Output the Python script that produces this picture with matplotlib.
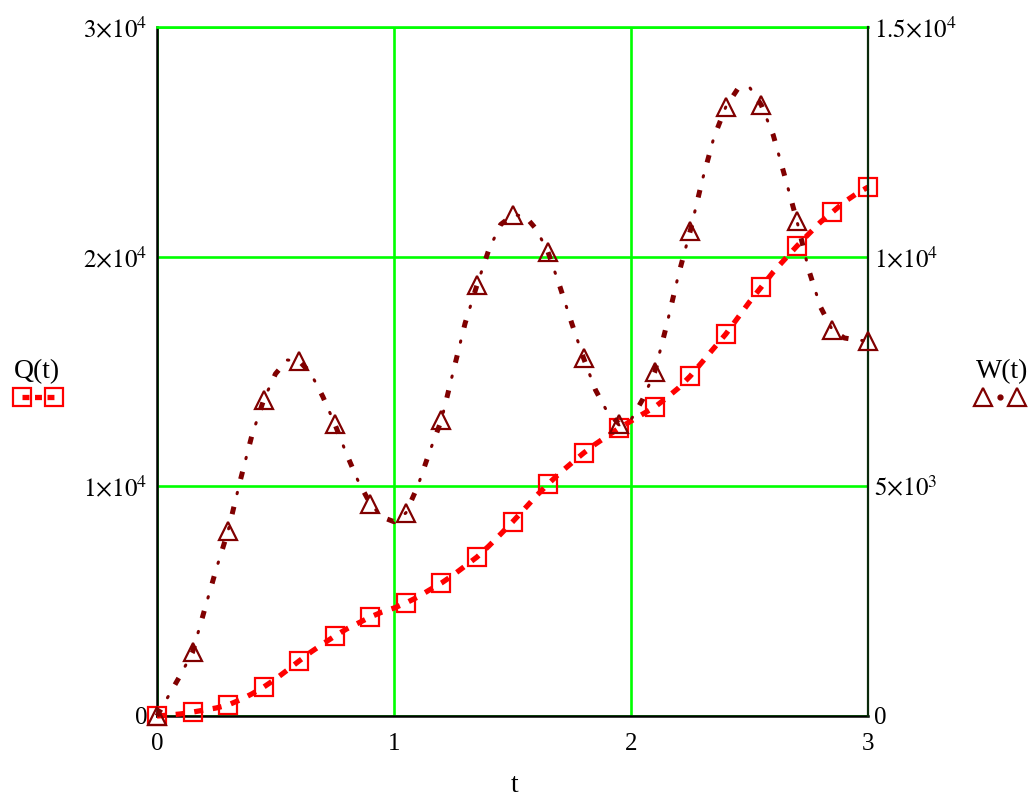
import numpy as np
import matplotlib
matplotlib.use("Agg")
import matplotlib.pyplot as plt
from matplotlib.lines import Line2D

plt.rcParams["mathtext.fontset"] = "stix"
plt.rcParams["font.family"] = ["Liberation Serif", "DejaVu Serif"]
plt.rcParams["lines.scale_dashes"] = False

# sample grid for t in [0, 3]
t_step = 0.05
t = np.round(np.arange(0, 3 + t_step / 2, t_step), 2)

# Q(t), left axis
q_values = [
    0, 40, 90, 170, 260, 350, 480, 700, 960, 1260,
    1610, 2000, 2400, 2790, 3140, 3480, 3790, 4050, 4310, 4530,
    4700, 4920, 5180, 5490, 5790, 6140, 6530, 6920, 7400, 7920,
    8450, 9010, 9580, 10100, 10580, 11020, 11450, 11840, 12190, 12540,
    12840, 13150, 13450, 13850, 14280, 14800, 15410, 16020, 16630, 17330,
    18030, 18680, 19330, 19900, 20460, 20990, 21510, 21940, 22380, 22730,
    23030,
]

# W(t), right axis
w_values = [
    0, 450, 900, 1390, 2300, 3200, 4030, 5100, 6100, 6880,
    7450, 7750, 7730, 7450, 6950, 6360, 5700, 5100, 4620, 4330,
    4230, 4420, 5000, 5750, 6440, 7500, 8550, 9380, 10150, 10700,
    10900, 10900, 10600, 10100, 9350, 8550, 7790, 7100, 6620, 6360,
    6450, 6900, 7490, 8500, 9600, 10560, 11650, 12600, 13260, 13650,
    13690, 13300, 12650, 11730, 10780, 9710, 8900, 8400, 8230, 8190,
    8160,
]

x_ticks = [0, 1, 2, 3]
x_tick_labels = ["0", "1", "2", "3"]
q_ticks = [0, 10000, 20000, 30000]
q_tick_labels = ["0", r"$1{\times}10^{4}$", r"$2{\times}10^{4}$", r"$3{\times}10^{4}$"]
w_ticks = [0, 5000, 10000, 15000]
w_tick_labels = ["0", r"$5{\times}10^{3}$", r"$1{\times}10^{4}$", r"$1.5{\times}10^{4}$"]

Q_COLOR = "#ff0000"
W_COLOR = "#800000"
GRID_COLOR = "#00ff00"
FS_TICK = 18
FS_TEXT = 20

W_PX, H_PX = 1034, 796
fig = plt.figure(figsize=(W_PX / 100, H_PX / 100), dpi=100)
left, right, bottom, top = 157, 868, 716, 27
ax = fig.add_axes([left / W_PX, 1 - bottom / H_PX,
                   (right - left) / W_PX, (bottom - top) / H_PX])
ax2 = ax.twinx()

ax.set_xlim(0, 3)
ax.set_ylim(0, 30000)
ax2.set_ylim(0, 15000)

for a in (ax, ax2):
    a.set_facecolor("none")
    a.tick_params(length=0, labelsize=FS_TICK)
ax.set_xticks(x_ticks, x_tick_labels)
ax.set_yticks(q_ticks, q_tick_labels)
ax2.set_yticks(w_ticks, w_tick_labels)
ax.tick_params(axis="x", pad=12)
ax.tick_params(axis="y", pad=7)
ax2.tick_params(axis="y", pad=4)

ax.grid(True, color=GRID_COLOR, linewidth=1.9, zorder=0)
ax.set_axisbelow(True)

for s in ("left", "bottom"):
    ax.spines[s].set_color("black")
    ax.spines[s].set_linewidth(1.8)
    ax2.spines[s].set_visible(False)
ax.spines["top"].set_color(GRID_COLOR)
ax.spines["top"].set_linewidth(1.9)
ax2.spines["top"].set_visible(False)
ax.spines["right"].set_visible(False)
ax2.spines["right"].set_color("#0a2a0a")
ax2.spines["right"].set_linewidth(1.6)

# dash patterns (points)
q_dash = (0, (6.5, 7.0))
w_dash = (0, (5.5, 20.5))          # long strokes of the dash-dot
w_dot = (10.85, (1.0, 25.0))       # small dots between the strokes

ax.plot(t, q_values, color=Q_COLOR, linewidth=3.8, linestyle=q_dash,
        marker="s", markevery=3, markersize=13, markerfacecolor="none",
        markeredgecolor=Q_COLOR, markeredgewidth=1.6, zorder=3,
        clip_on=False)
ax2.plot(t, w_values, color=W_COLOR, linewidth=3.6, linestyle=w_dash,
         zorder=4, clip_on=False)
ax2.plot(t, w_values, color=W_COLOR, linewidth=2.2, linestyle=w_dot,
         dash_capstyle="round", zorder=4, clip_on=False)
ax2.plot(t[::3], w_values[::3], linestyle="none", marker="^",
         markersize=13, markerfacecolor="none", markeredgecolor=W_COLOR,
         markeredgewidth=1.6, zorder=5, clip_on=False)

# axis caption
fig.text(515 / W_PX, 1 - 785 / H_PX, "t", ha="center", va="center", fontsize=FS_TEXT)

# series keys at the sides
fig.text(37 / W_PX, 1 - 372 / H_PX, "Q(t)", ha="center", va="center", fontsize=FS_TEXT)
fig.text(1002 / W_PX, 1 - 372 / H_PX, "W(t)", ha="center", va="center", fontsize=FS_TEXT)

key_y = 1 - 397 / H_PX
fig.add_artist(Line2D([22 / W_PX, 54 / W_PX], [key_y, key_y],
                      transform=fig.transFigure, color=Q_COLOR, linewidth=3.8,
                      linestyle=(0, (5.0, 4.0)), marker="s", markersize=13,
                      markerfacecolor="none", markeredgecolor=Q_COLOR,
                      markeredgewidth=1.6))
fig.add_artist(Line2D([983 / W_PX, 1017 / W_PX], [key_y, key_y],
                      transform=fig.transFigure, color=W_COLOR, linewidth=0,
                      marker="^", markersize=13,
                      markerfacecolor="none", markeredgecolor=W_COLOR,
                      markeredgewidth=1.6))
fig.add_artist(Line2D([1000 / W_PX], [key_y], transform=fig.transFigure,
                      linestyle="none", marker="o", markersize=3.5,
                      markerfacecolor=W_COLOR, markeredgecolor=W_COLOR))

fig.savefig("out.png", dpi=100, facecolor="white")
